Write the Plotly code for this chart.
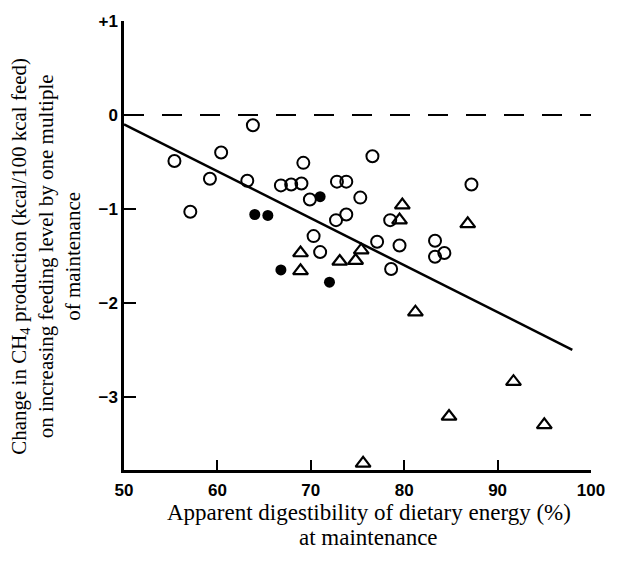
import plotly.graph_objects as go

# Open circles
open_x = [63.8, 55.4, 60.4, 59.2, 63.2, 57.1, 69.2, 66.8, 67.9, 69.0, 72.8, 73.8, 76.6,
          69.9, 75.3, 72.7, 73.8, 70.3, 71.0, 77.1, 87.2, 78.5, 79.5, 83.3, 83.3, 84.3, 78.6]
open_y = [-0.11, -0.49, -0.40, -0.68, -0.70, -1.03, -0.51, -0.75, -0.74, -0.73, -0.71, -0.71, -0.44,
          -0.90, -0.88, -1.12, -1.06, -1.29, -1.46, -1.35, -0.74, -1.12, -1.39, -1.34, -1.51, -1.47, -1.64]

# Filled circles
fill_x = [71.0, 64.0, 65.4, 66.8, 72.0]
fill_y = [-0.87, -1.06, -1.07, -1.65, -1.78]

# Open triangles
tri_x = [68.9, 68.9, 73.1, 74.8, 75.4, 79.8, 79.5, 86.8, 81.2, 91.7, 84.8, 95.0, 75.6]
tri_y = [-1.47, -1.66, -1.56, -1.55, -1.44, -0.96, -1.12, -1.16, -2.10, -2.84, -3.21, -3.30, -3.71]

# Regression line endpoints
line_x = [50, 98.0]
line_y = [-0.10, -2.50]

# Zero reference
zero_x = [50, 100]
zero_y = [0, 0]

x_ticks = [50, 60, 70, 80, 90, 100]
y_ticks = [1, 0, -1, -2, -3]
y_ticktext = ["+1", "0", "\u22121", "\u22122", "\u22123"]

fig = go.Figure()
fig.add_trace(go.Scatter(x=zero_x, y=zero_y, mode="lines",
                         line=dict(color="black", width=2, dash="20px,18px"),
                         showlegend=False, hoverinfo="skip"))
fig.add_trace(go.Scatter(x=line_x, y=line_y, mode="lines",
                         line=dict(color="black", width=2.5),
                         showlegend=False))
fig.add_trace(go.Scatter(x=open_x, y=open_y, mode="markers",
                         marker=dict(symbol="circle-open", size=12, color="black",
                                     line=dict(width=2, color="black")),
                         showlegend=False))
fig.add_trace(go.Scatter(x=fill_x, y=fill_y, mode="markers",
                         marker=dict(symbol="circle", size=11, color="black"),
                         showlegend=False))
fig.add_trace(go.Scatter(x=tri_x, y=tri_y, mode="markers",
                         marker=dict(symbol="triangle-up-open", size=13, color="black",
                                     line=dict(width=2.2, color="black")),
                         showlegend=False))

tickfont = dict(family="Liberation Sans", size=17, color="black", weight="bold")
serif_y = dict(family="Liberation Serif", size=21, color="black")
serif_x = dict(family="Liberation Serif", size=23, color="black")

fig.update_layout(
    width=617, height=572,
    margin=dict(l=123.5, r=19.5, t=20.7, b=102),
    plot_bgcolor="white", paper_bgcolor="white",
    xaxis=dict(range=[50, 100], tickvals=x_ticks, ticks="inside", ticklen=10, tickwidth=2,
               tickcolor="black", showline=True, linecolor="black", linewidth=2.5,
               showgrid=False, zeroline=False, tickfont=tickfont, ticklabelstandoff=3),
    yaxis=dict(range=[-3.78, 1], tickvals=y_ticks, ticktext=y_ticktext, ticks="inside",
               ticklen=12, tickwidth=2, tickcolor="black", showline=True, linecolor="black",
               linewidth=2.5, showgrid=False, zeroline=False, tickfont=tickfont),
    annotations=[
        dict(text="Apparent digestibility of dietary energy (%)", xref="paper", yref="paper",
             x=(372 - 123.5) / 474, y=-(513 - 470) / 449.3, xanchor="center", yanchor="middle",
             showarrow=False, font=serif_x),
        dict(text="at maintenance", xref="paper", yref="paper",
             x=(372 - 123.5) / 474, y=-(538 - 470) / 449.3, xanchor="center", yanchor="middle",
             showarrow=False, font=serif_x),
        dict(text="Change in CH<sub>4</sub> production (kcal/100 kcal feed)<br>"
                  "on increasing feeding level by one multiple<br>of maintenance",
             xref="paper", yref="paper", x=(44 - 123.5) / 474, y=(470 - 256) / 449.3,
             xanchor="center", yanchor="middle", textangle=-90, showarrow=False,
             font=serif_y, align="center"),
    ],
)

fig.write_html("out.html")
